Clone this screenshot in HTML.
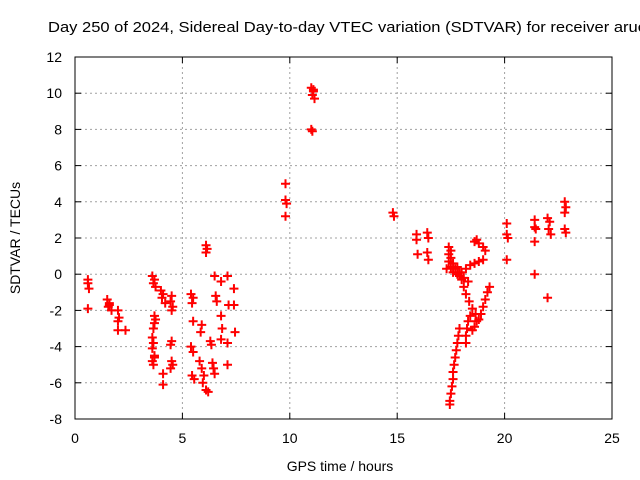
<!DOCTYPE html>
<html><head><meta charset="utf-8"><style>
body{margin:0;background:#fff;}
svg{display:block;font-family:"Liberation Sans",sans-serif;}
</style></head><body>
<svg id="chart" width="640" height="480">
<rect width="640" height="480" fill="#fff"/>
<text x="48" y="32" font-size="15" textLength="598" lengthAdjust="spacingAndGlyphs">Day 250 of 2024, Sidereal Day-to-day VTEC variation (SDTVAR) for receiver aruc</text>
<g id="grid"></g>
<g id="ticks"></g>
<rect x="75" y="57" width="537" height="362" fill="none" stroke="#000" stroke-width="1"/>
<g id="pts"></g>
<text x="340" y="471" font-size="14" text-anchor="middle">GPS time / hours</text>
<text x="20" y="238" font-size="14" text-anchor="middle" transform="rotate(-90 20 238)">SDTVAR / TECUs</text>
</svg>
<script>
const xTicks=[0,5,10,15,20,25];
const yTicks=[-8,-6,-4,-2,0,2,4,6,8,10,12];
const hours=[0.6,0.6,0.65,0.6,1.5,1.6,1.55,1.7,1.6,2.0,2.05,2.0,2.0,2.35,
3.6,3.7,3.65,3.75,3.7,3.75,3.7,3.65,3.6,3.65,3.6,3.7,3.6,3.65,3.7,4.0,4.1,4.05,4.2,4.1,4.1,4.5,4.45,4.55,4.5,4.5,4.45,4.5,4.55,4.45,
5.4,5.5,5.45,5.5,5.4,5.5,5.45,5.55,5.9,5.85,5.8,5.9,6.0,5.95,6.1,6.2,6.1,6.15,6.1,6.3,6.35,6.4,6.45,6.5,6.5,6.55,6.6,6.8,6.8,6.85,6.8,7.1,7.15,7.1,7.1,7.4,7.4,7.45,
9.8,9.8,9.85,9.8,11.0,11.1,11.05,11.15,11.1,11.0,11.05,
14.8,14.85,15.9,15.9,15.95,16.4,16.45,16.4,16.45,
17.4,17.5,17.4,17.5,17.4,17.6,17.5,17.7,17.6,17.8,17.9,17.3,
17.9,17.85,17.8,17.75,17.7,17.65,17.6,17.6,17.55,17.5,17.45,17.45,
18.25,18.2,18.2,18.3,18.4,
17.8,17.9,18.0,18.1,18.2,18.35,18.5,18.65,18.8,19.3,19.2,19.1,19.0,18.9,18.7,18.6,18.5,
18.0,18.2,18.4,18.6,18.8,19.0,18.1,18.3,18.6,18.8,19.0,19.1,18.7,
20.1,20.1,20.15,20.1,21.4,21.4,21.45,21.4,21.4,22.0,22.0,22.1,22.05,22.15,22.8,22.85,22.8,22.8,22.85];
const values=[-0.3,-0.5,-0.8,-1.9,-1.4,-1.6,-1.8,-2.0,-1.7,-2.0,-2.4,-2.6,-3.1,-3.1,
-0.1,-0.3,-0.5,-0.7,-2.3,-2.5,-2.7,-3.0,-3.5,-3.8,-4.1,-4.5,-4.8,-5.0,-4.6,-0.9,-1.1,-1.3,-1.6,-5.5,-6.1,-1.2,-1.5,-1.8,-2.0,-3.7,-3.9,-4.8,-5.0,-5.2,
-1.1,-1.3,-1.6,-2.6,-4.0,-4.3,-5.6,-5.8,-2.8,-3.2,-4.8,-5.2,-5.6,-6.0,-6.4,-6.5,1.6,1.4,1.2,-3.7,-3.9,-4.9,-5.2,-5.5,-0.1,-1.2,-1.5,-0.4,-2.3,-3.0,-3.6,-0.1,-1.7,-3.8,-5.0,-0.8,-1.7,-3.2,
5.0,4.1,3.9,3.2,10.3,10.1,9.9,9.7,10.2,8.0,7.9,
3.4,3.2,2.2,1.9,1.1,2.3,2.0,1.2,0.8,
1.5,1.3,1.1,0.9,0.7,0.6,0.4,0.3,0.1,0.0,-0.1,0.3,
-3.0,-3.4,-3.8,-4.2,-4.6,-5.0,-5.4,-5.8,-6.2,-6.6,-7.0,-7.2,
-3.0,-3.4,-3.8,-2.6,-2.3,
0.4,0.1,-0.3,-0.7,-1.1,-1.5,-1.9,-2.2,-2.5,-0.7,-1.0,-1.4,-1.8,-2.2,-2.6,-2.9,-3.1,
0.1,0.3,0.5,0.6,0.7,0.8,-0.2,-0.4,1.8,1.7,1.5,1.3,1.9,
2.8,2.2,2.0,0.8,3.0,2.6,2.5,1.8,0.0,-1.3,3.1,2.9,2.5,2.2,4.0,3.7,3.4,2.5,2.3];
const NS="http://www.w3.org/2000/svg";
const X0=75,X1=612,Y0=419,Y1=57;
function sx(h){return X0+(h-0)/(25-0)*(X1-X0);}
function sy(v){return Y0-(v+8)/(12+8)*(Y0-Y1);}
function mk(tag,attrs,parent){const e=document.createElementNS(NS,tag);for(const k in attrs)e.setAttribute(k,attrs[k]);parent.appendChild(e);return e;}
const grid=document.getElementById('grid'),ticks=document.getElementById('ticks'),pts=document.getElementById('pts');
xTicks.forEach(t=>{const x=sx(t);
 if(t>0&&t<25){const g=mk('line',{x1:x,x2:x,y1:Y1,y2:Y0,stroke:'#a0a0a0','stroke-dasharray':'2,3'},grid);
 
 }
 mk('line',{x1:x,x2:x,y1:Y0,y2:Y0-6,stroke:'#000'},ticks);mk('line',{x1:x,x2:x,y1:Y1,y2:Y1+6,stroke:'#000'},ticks);
 const l=mk('text',{x:x,y:443,'font-size':14,'text-anchor':'middle'},ticks);l.textContent=t;
 
 });
yTicks.forEach(t=>{const y=sy(t);
 if(t>-8&&t<12){const g=mk('line',{x1:X0,x2:X1,y1:y,y2:y,stroke:'#a0a0a0','stroke-dasharray':'2,3'},grid);
 
 }
 mk('line',{x1:X0,x2:X0+6,y1:y,y2:y,stroke:'#000'},ticks);mk('line',{x1:X1,x2:X1-6,y1:y,y2:y,stroke:'#000'},ticks);
 const l=mk('text',{x:62,y:y+5,'font-size':14,'text-anchor':'end'},ticks);l.textContent=t;
 
 });
hours.forEach((h,i)=>{const x=sx(h),y=sy(values[i]);
 const p=mk('path',{d:`M${x-4.5},${y}H${x+4.5}M${x},${y-4.5}V${y+4.5}`,stroke:'#f00','stroke-width':2,fill:'none'},pts);
 
 });
</script>
</body></html>
